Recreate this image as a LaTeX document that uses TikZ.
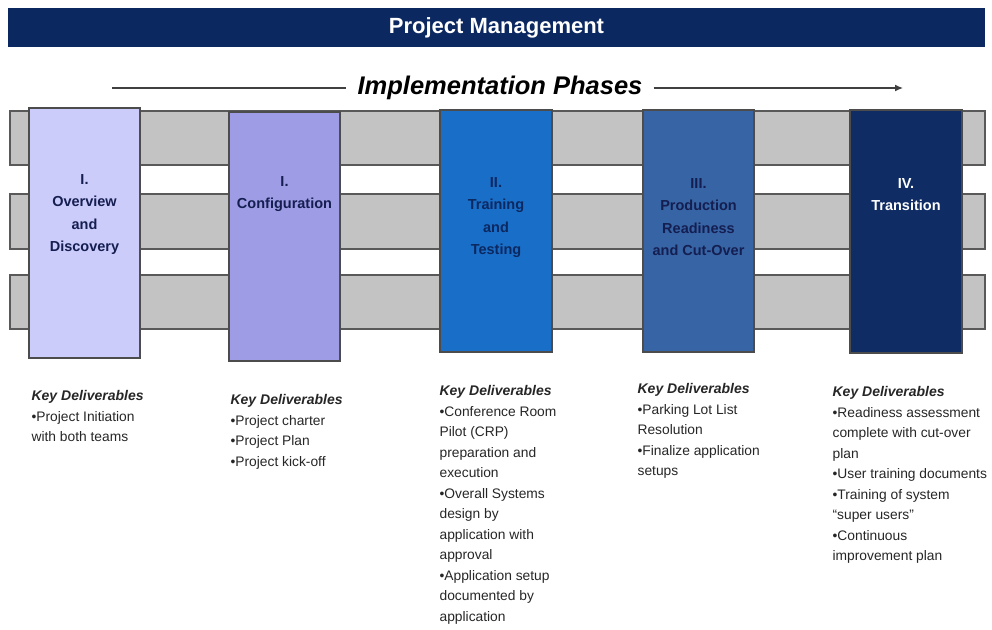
\documentclass[tikz,border=0pt]{standalone}
\usepackage{fontspec}
\setmainfont{Liberation Sans}
\usetikzlibrary{positioning,arrows.meta}

\definecolor{navy}{RGB}{12,40,96}
\definecolor{bandgray}{RGB}{195,195,195}
\definecolor{phaseA}{RGB}{204,204,250}
\definecolor{phaseB}{RGB}{158,156,228}
\definecolor{phaseC}{RGB}{25,110,200}
\definecolor{phaseD}{RGB}{55,100,165}
\definecolor{phaseE}{RGB}{15,45,100}
\definecolor{inknavy}{RGB}{20,30,80}
\newcommand{\keyhead}{\fontsize{14}{20.5}\selectfont\bfseries\itshape}

\begin{document}
\begin{tikzpicture}[x=1pt, y=-1pt,
  phase/.style={draw=black!70, line width=1.2pt, minimum width=111pt, minimum height=243pt, inner sep=0pt},
  phasetext/.style={align=center, inner sep=0pt, text=inknavy, font=\fontsize{14.5}{22.3}\selectfont\bfseries},
  deliver/.style={align=left, inner sep=0pt, anchor=north west, text=black!85, font=\fontsize{13.8}{20.5}\selectfont}]

\useasboundingbox (0,0) rectangle (992,629);

\node[fill=navy, minimum width=977pt, minimum height=39pt, inner sep=0pt, text=white, font=\fontsize{22}{24}\selectfont\bfseries] (title) at (496.5, 27.5) {Project Management};

\node[inner sep=11pt, font=\fontsize{25.5}{28}\selectfont\bfseries\itshape] (phases) at (500, 88) {Implementation Phases};
\coordinate (arrowstart) at (112, 88);
\coordinate (arrowend) at (903, 88);
\draw[black!75, line width=1.3pt] (arrowstart) -- (phases.west);
\draw[black!75, line width=1.3pt, -{Latex[length=8pt, width=7pt]}] (phases.east) -- (arrowend);

\foreach \top/\bot in {111/165, 194/249, 275/329}
  \draw[fill=bandgray, draw=black!65, line width=1.3pt] (10, \top) rectangle (985, \bot);

\node[phase, fill=phaseA, minimum height=250pt] (1) at (84.5, 233) {};
\node[phase, fill=phaseB, minimum height=249pt] (2) at (284.5, 236.5) {};
\node[phase, fill=phaseC, minimum height=242pt, minimum width=112pt] (3) at (496, 231) {};
\node[phase, fill=phaseD, minimum height=242pt] (4) at (698.5, 231) {};
\node[phase, fill=phaseE, minimum height=243pt, minimum width=112pt] (5) at (906, 231.5) {};

\node[phasetext, below=67pt of 1.north] (t1) {I.\\Overview\\and\\Discovery};
\node[phasetext, below=65pt of 2.north] (t2) {I.\\Configuration};
\node[phasetext, below=68pt of 3.north, text=navy] (t3) {II.\\Training\\and\\Testing};
\node[phasetext, below=69pt of 4.north] (t4) {III.\\Production\\Readiness\\and Cut-Over};
\node[phasetext, below=69pt of 5.north, text=white] (t5) {IV.\\Transition};

\node[deliver, below right=32pt and 3pt of 1.south west] (d1) {{\keyhead Key Deliverables}\\\textbullet Project Initiation\\with both teams};
\node[deliver, below right=33pt and 2pt of 2.south west] (d2) {{\keyhead Key Deliverables}\\\textbullet Project charter\\\textbullet Project Plan\\\textbullet Project kick-off};
\node[deliver, below right=33pt and 0pt of 3.south west] (d3) {{\keyhead Key Deliverables}\\\textbullet Conference Room\\Pilot (CRP)\\preparation and\\execution\\\textbullet Overall Systems\\design by\\application with\\approval\\\textbullet Application setup\\documented by\\application};
\node[deliver, below right=31pt and -5pt of 4.south west] (d4) {{\keyhead Key Deliverables}\\\textbullet Parking Lot List\\Resolution\\\textbullet Finalize application\\setups};
\node[deliver, below right=33pt and -17pt of 5.south west] (d5) {{\keyhead Key Deliverables}\\\textbullet Readiness assessment\\complete with cut-over\\plan\\\textbullet User training documents\\\textbullet Training of system\\``super users''\\\textbullet Continuous\\improvement plan};

\end{tikzpicture}
\end{document}
